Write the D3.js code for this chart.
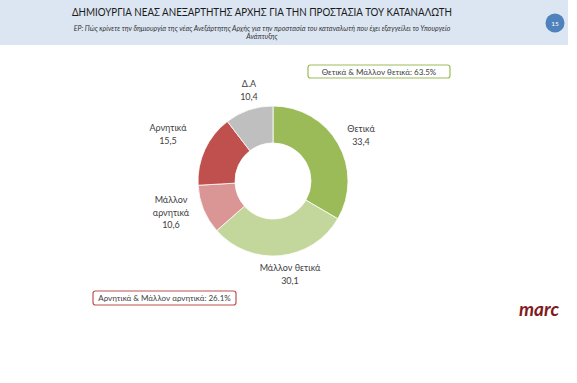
<!DOCTYPE html>
<html>
<head>
<meta charset="utf-8">
<script src="https://cdn.jsdelivr.net/npm/d3@7"></script>
<style>
	body { margin: 0; background: #fff; }
	text { font-family: Lato, "Open Sans", sans-serif; }
</style>
</head>
<body>
<script>
'use strict';

// slices, clockwise from 12 o'clock
const categories = ["Θετικά", "Μάλλον θετικά", "Μάλλον αρνητικά", "Αρνητικά", "Δ.Α"];
const values = [33.4, 30.1, 10.6, 15.5, 10.4];
const colors = ["#9bbb59", "#c3d69b", "#d99694", "#c0504d", "#bfbfbf"];
// label lines per slice (the name may wrap) and where they sit
const labelLines = [["Θετικά"], ["Μάλλον θετικά"], ["Μάλλον", "αρνητικά"], ["Αρνητικά"], ["Δ.Α"]];
const labelPos = [[361, 132], [290, 271], [171, 203], [168, 131], [249, 87]];

const title = "ΔΗΜΙΟΥΡΓΙΑ ΝΕΑΣ ΑΝΕΞΑΡΤΗΤΗΣ ΑΡΧΗΣ ΓΙΑ ΤΗΝ ΠΡΟΣΤΑΣΙΑ ΤΟΥ ΚΑΤΑΝΑΛΩΤΗ";
const question = ["ΕΡ: Πώς κρίνετε την δημιουργία της νέας Ανεξάρτητης Αρχής για την προστασία του καταναλωτή που έχει εξαγγείλει το Υπουργείο", "Ανάπτυξης"];
const pageNo = "15";
const positiveNote = "Θετικά & Μάλλον θετικά: 63.5%";
const negativeNote = "Αρνητικά & Μάλλον αρνητικά: 26.1%";

const params = { width: 577, height: 383, cx: 273, cy: 181, outerR: 75, innerR: 38 };

const fmt = v => String(v).replace(".", ",");

const svg = d3.select("body").append("svg")
	.attr("width", params.width)
	.attr("height", params.height);

// header band
svg.append("rect")
	.attr("x", 0).attr("y", 0)
	.attr("width", 568).attr("height", 45)
	.attr("fill", "#dce6f2");

svg.append("text")
	.attr("x", 262).attr("y", 16)
	.attr("text-anchor", "middle")
	.attr("font-size", 11)
	.attr("textLength", 380)
	.attr("lengthAdjust", "spacingAndGlyphs")
	.attr("fill", "#1a1a1a")
	.text(title);

svg.append("g").selectAll("text")
	.data(question)
	.join("text")
		.attr("x", 262).attr("y", (d, i) => 31 + i * 7.5)
		.attr("text-anchor", "middle")
		.attr("font-size", 7)
		.attr("font-style", "italic")
		.attr("fill", "#333")
		.text(d => d);

svg.append("circle")
	.attr("cx", 555).attr("cy", 23).attr("r", 9.5)
	.attr("fill", "#4f81bd");
svg.append("text")
	.attr("x", 555).attr("y", 25.5)
	.attr("text-anchor", "middle")
	.attr("font-size", 6.5)
	.attr("fill", "#fff")
	.text(pageNo);

// donut
const pie = d3.pie().sort(null).value(d => d);
const arc = d3.arc().innerRadius(params.innerR).outerRadius(params.outerR);

svg.append("g")
	.attr("transform", `translate(${params.cx},${params.cy})`)
	.selectAll("path")
	.data(pie(values))
	.join("path")
		.attr("d", arc)
		.attr("fill", (d, i) => colors[i])
		.attr("stroke", "#fff")
		.attr("stroke-width", 0.8);

// data labels
const labels = svg.append("g")
	.selectAll("text")
	.data(values)
	.join("text")
		.attr("text-anchor", "middle")
		.attr("font-size", 9)
		.attr("fill", "#404040")
		.attr("x", (d, i) => labelPos[i][0])
		.attr("y", (d, i) => labelPos[i][1]);

labels.each(function (d, i) {
	const t = d3.select(this);
	const lines = labelLines[i].concat([fmt(d)]);
	lines.forEach((l, j) => {
		t.append("tspan")
			.attr("x", labelPos[i][0])
			.attr("dy", j === 0 ? 0 : 12.5)
			.text(l);
	});
});

// summary boxes
const addNote = (x, y, w, h, stroke, txt) => {
	svg.append("rect")
		.attr("x", x).attr("y", y)
		.attr("width", w).attr("height", h)
		.attr("rx", 2.5)
		.attr("fill", "#fff")
		.attr("stroke", stroke)
		.attr("stroke-width", 1.2);
	svg.append("text")
		.attr("x", x + w / 2).attr("y", y + h / 2 + 3)
		.attr("text-anchor", "middle")
		.attr("font-size", 8)
		.attr("fill", "#404040")
		.text(txt);
};
addNote(308, 65, 142, 13, "#9bbb59", positiveNote);
addNote(93, 291, 143, 14, "#c0504d", negativeNote);

// logo
svg.append("text")
	.attr("x", 539).attr("y", 316)
	.attr("text-anchor", "middle")
	.attr("font-family", "'Liberation Serif', 'DejaVu Serif', serif")
	.attr("font-style", "italic")
	.attr("font-weight", "bold")
	.attr("font-size", 19)
	.attr("fill", "#7f1d1d")
	.text("marc");
</script>
</body>
</html>
